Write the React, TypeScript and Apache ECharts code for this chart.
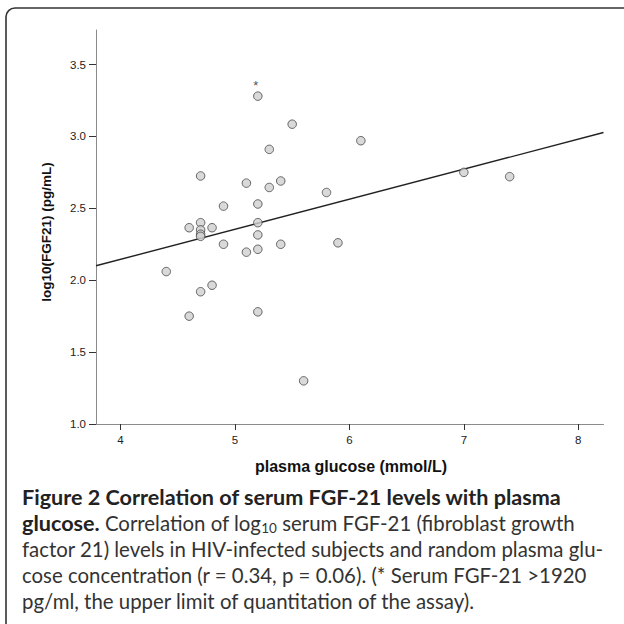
import React, { useEffect, useRef } from "react";
import * as echarts from "echarts";

const glucose = [5.2, 5.5, 5.3, 6.1, 4.7, 5.1, 5.3, 5.4, 5.8, 7.0, 7.4, 4.9, 5.2, 4.6, 4.7, 4.7, 4.7, 4.7, 4.8, 5.2, 5.2, 5.2, 5.1, 4.9, 5.4, 5.9, 4.4, 4.8, 4.7, 4.6, 5.2, 5.6];
const logFGF21 = [3.28, 3.085, 2.91, 2.97, 2.725, 2.675, 2.645, 2.69, 2.61, 2.75, 2.72, 2.515, 2.53, 2.365, 2.40, 2.35, 2.32, 2.305, 2.365, 2.40, 2.315, 2.215, 2.195, 2.25, 2.25, 2.26, 2.06, 1.965, 1.92, 1.75, 1.78, 1.30];
const starredIndex = 0;

const regIntercept = 1.309;
const regSlope = 0.209;

const xTicks = [4, 5, 6, 7, 8];
const yTicks = [1.0, 1.5, 2.0, 2.5, 3.0, 3.5];
const xMin = 3.786;
const xMax = 8.22;
const yMin = 1.0;
const yMax = 3.74;

const xTitle = "plasma glucose (mmol/L)";
const yTitle = "log10(FGF21) (pg/mL)";

const captionLine1 = "Figure 2 Correlation of serum FGF-21 levels with plasma";
const captionLine2 = "{b|glucose.} Correlation of log{s|10} serum FGF-21 (fibroblast growth";
const captionLine3 = "factor 21) levels in HIV-infected subjects and random plasma glu-";
const captionLine4 = "cose concentration (r = 0.34, p = 0.06). (* Serum FGF-21 >1920";
const captionLine5 = "pg/ml, the upper limit of quantitation of the assay).";

export default function App() {
  const ref = useRef<HTMLDivElement>(null);
  useEffect(() => {
    document.body.style.margin = "0";
    if (!ref.current) return;
    const chart = echarts.init(ref.current, null, { renderer: "svg" });
    const pts = glucose.map((g, i) => {
      const item: any = { value: [g, logFGF21[i]] };
      if (i === starredIndex) {
        item.label = {
          show: true,
          formatter: "*",
          position: "top",
          distance: 0,
          offset: [-2, 1],
          fontSize: 13,
          color: "#222",
          fontFamily: "Liberation Sans",
        };
      }
      return item;
    });
    const capFont = "Lato";
    const capSize = 20.4;
    const capBoldSize = 21.6;
    const capColor = "#333";
    const lineY = [497, 523, 549, 575, 601];
    const capLines = [captionLine2, captionLine3, captionLine4, captionLine5];
    chart.setOption({
      animation: false,
      grid: { left: 96, right: 20.5, top: 30, bottom: 200 },
      xAxis: {
        type: "value",
        min: xMin,
        max: xMax,
        splitLine: { show: false },
        axisLine: { show: true, lineStyle: { color: "#8a8a8a", width: 1 } },
        axisTick: { show: true, inside: false, length: 6, customValues: xTicks, lineStyle: { color: "#333", width: 1 } },
        axisLabel: {
          customValues: xTicks,
          color: "#222",
          fontSize: 11.5,
          fontFamily: "Liberation Sans",
          margin: 10,
          formatter: (v: number) => String(v),
        },
      },
      yAxis: {
        type: "value",
        min: yMin,
        max: yMax,
        splitLine: { show: false },
        axisLine: { show: true, lineStyle: { color: "#8a8a8a", width: 1 } },
        axisTick: { show: true, inside: false, length: 7, customValues: yTicks, lineStyle: { color: "#333", width: 1 } },
        axisLabel: {
          customValues: yTicks,
          color: "#222",
          fontSize: 11.5,
          fontFamily: "Liberation Sans",
          margin: 10,
          formatter: (v: number) => v.toFixed(1),
        },
      },
      series: [
        {
          type: "line",
          data: [
            [xMin, regIntercept + regSlope * xMin],
            [xMax, regIntercept + regSlope * xMax],
          ],
          showSymbol: false,
          symbol: "none",
          lineStyle: { color: "#222", width: 1.4 },
          silent: true,
          z: 1,
        },
        {
          type: "scatter",
          data: pts,
          symbol: "circle",
          symbolSize: 8.5,
          itemStyle: { color: "#cfcfcf", borderColor: "#444", borderWidth: 1 },
          z: 3,
        },
      ],
      graphic: [
        {
          type: "rect",
          shape: { x: 6, y: 8, width: 660, height: 660, r: 9 },
          style: { fill: "none", stroke: "#333", lineWidth: 1.6 },
          silent: true,
        },
        {
          type: "text",
          x: 46,
          y: 232,
          rotation: Math.PI / 2,
          style: {
            text: yTitle,
            fontFamily: "Liberation Sans",
            fontWeight: "bold",
            fontSize: 13.5,
            fill: "#111",
            align: "center",
            verticalAlign: "middle",
          },
        },
        {
          type: "text",
          x: 351,
          y: 466,
          style: {
            text: xTitle,
            fontFamily: "Liberation Sans",
            fontWeight: "bold",
            fontSize: 16,
            fill: "#111",
            align: "center",
            verticalAlign: "middle",
          },
        },
        {
          type: "text",
          x: 22,
          y: lineY[0],
          style: {
            text: captionLine1,
            fontFamily: capFont,
            fontWeight: "bold",
            fontSize: capBoldSize,
            fill: "#222",
            align: "left",
            verticalAlign: "middle",
          },
        },
        ...capLines.map((t, i) => ({
          type: "text",
          x: 22,
          y: lineY[i + 1],
          style: {
            text: t,
            fontFamily: capFont,
            fontSize: capSize,
            fill: capColor,
            align: "left",
            verticalAlign: "middle",
            rich: {
              b: { fontFamily: capFont, fontWeight: "bold", fontSize: capBoldSize, fill: "#222" },
              s: { fontFamily: capFont, fontSize: 13.5, fill: capColor, padding: [10, 0, 0, 0] },
            },
          },
        })),
      ],
    });
    return () => chart.dispose();
  }, []);
  return <div ref={ref} style={{ width: 624, height: 624 }} />;
}
